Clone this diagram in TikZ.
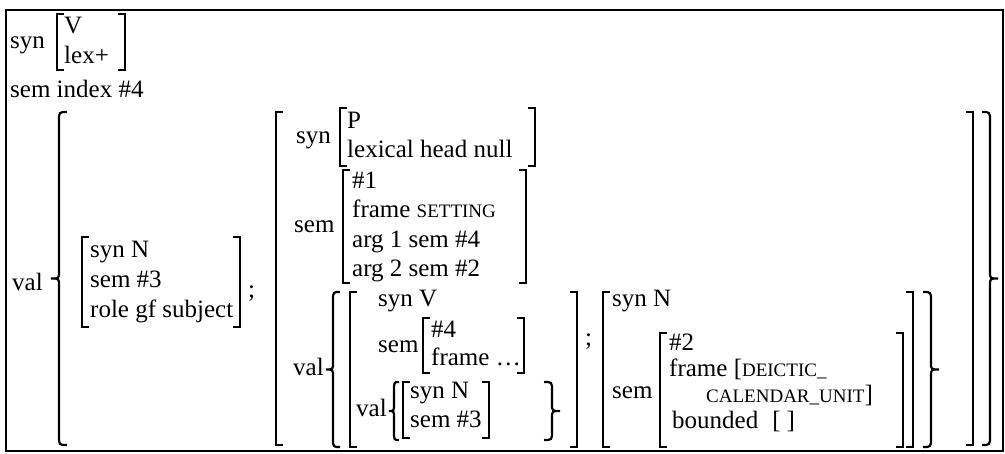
\documentclass[tikz,border=0pt]{standalone}
\usepackage{fontspec}
\setmainfont{Liberation Serif}
\usepackage{tikz}

\newcommand{\avmfont}{\fontsize{25}{30}\selectfont}
\newcommand{\avmsc}[1]{{\fontsize{19}{22}\selectfont #1}}
% square brackets: x, top, bottom
\newcommand{\lbrk}[3]{\draw[brk] (#1+7,#2) -- (#1,#2) -- (#1,#3) -- (#1+7,#3);}
\newcommand{\rbrk}[3]{\draw[brk] (#1-7,#2) -- (#1,#2) -- (#1,#3) -- (#1-7,#3);}
% curly braces: x of the stem, top, bottom, arm width
\newcommand{\lbrc}[4]{\draw[brk] (#1+#4,#2) .. controls (#1,#2) .. (#1,#2+9)
  -- (#1,{(#2+#3)/2-7}) .. controls (#1,{(#2+#3)/2}) .. (#1-#4,{(#2+#3)/2})
  .. controls (#1,{(#2+#3)/2}) .. (#1,{(#2+#3)/2+7}) -- (#1,#3-9)
  .. controls (#1,#3) .. (#1+#4,#3);}
\newcommand{\rbrc}[4]{\draw[brk] (#1-#4,#2) .. controls (#1,#2) .. (#1,#2+9)
  -- (#1,{(#2+#3)/2-7}) .. controls (#1,{(#2+#3)/2}) .. (#1+#4,{(#2+#3)/2})
  .. controls (#1,{(#2+#3)/2}) .. (#1,{(#2+#3)/2+7}) -- (#1,#3-9)
  .. controls (#1,#3) .. (#1-#4,#3);}

\begin{document}
\begin{tikzpicture}[
  x=1pt, y=-1pt,
  txt/.style={anchor=base west, inner sep=0pt, font=\avmfont},
  brk/.style={line width=2.2pt, line cap=butt, line join=miter},
]
  \useasboundingbox (0,0) rectangle (1005,453);
  \draw[line width=1.8pt] (6,10) rectangle (1003,451);

  % head
  \node[txt] (synA) at (10,48) {syn};
  \lbrk{57}{14}{70}
  \node[txt] (vA) at (64,33) {V};
  \node[txt] (lexA) at (64,63) {lex+};
  \rbrk{125}{14}{70}
  \node[txt] (semA) at (10,97) {sem index \#4};

  % valence
  \node[txt] (valA) at (12,290) {val};
  \lbrc{59}{112}{445}{8}

  \lbrk{82}{237}{327}
  \node[txt] (synB) at (90,257) {syn N};
  \node[txt] (semB) at (90,287) {sem \#3};
  \node[txt] (roleB) at (90,317) {role gf subject};
  \rbrk{240}{237}{327}
  \node[txt] (semiA) at (248,297) {;};

  \lbrk{276}{112}{445}
  \node[txt] (synC) at (296,143) {syn};
  \lbrk{340}{108}{166}
  \node[txt] (pC) at (347,128) {P};
  \node[txt] (lexC) at (347,157) {lexical head null};
  \rbrk{535}{108}{166}

  \node[txt] (semC) at (294,232) {sem};
  \lbrk{343}{170}{283}
  \node[txt] (idC) at (352,188) {\#1};
  \node[txt] (frC) at (352,217) {frame \avmsc{SETTING}};
  \node[txt] (argC) at (352,247) {arg 1 sem \#4};
  \node[txt] (argD) at (352,276) {arg 2 sem \#2};
  \rbrk{526}{170}{283}

  \node[txt] (valC) at (293,375) {val};
  \lbrc{333}{292}{447}{7}
  \lbrk{350}{292}{447}
  \node[txt] (synD) at (378,306) {syn V};
  \node[txt] (semD) at (378,352) {sem};
  \lbrk{423}{318}{373}
  \node[txt] (idD) at (431,337) {\#4};
  \node[txt] (frD) at (431,365) {frame \ldots};
  \rbrk{524}{318}{373}
  \node[txt] (valD) at (356,416) {val};
  \lbrc{394}{382}{440}{5}
  \lbrk{403}{382}{438}
  \node[txt] (synE) at (410,398) {syn N};
  \node[txt] (semE) at (410,427) {sem \#3};
  \rbrk{489}{382}{438}
  \rbrc{552}{382}{440}{8}
  \rbrk{577}{292}{447}
  \node[txt] (semiB) at (585,345) {;};

  \lbrk{603}{292}{447}
  \node[txt] (synF) at (612,306) {syn N};
  \node[txt] (semF) at (612,398) {sem};
  \lbrk{660}{333}{447}
  \node[txt] (idF) at (669,350) {\#2};
  \node[txt] (frF) at (669,376) {frame [\avmsc{DEICTIC\_}};
  \node[txt] (calF) at (706,402) {\avmsc{CALENDAR\_UNIT}]};
  \node[txt] (bdF) at (672,428) {bounded\hspace{14pt}[\hspace{6pt}]};
  \rbrk{903}{333}{447}
  \rbrk{913}{292}{447}
  \rbrc{931}{292}{447}{8}

  \rbrk{973}{112}{445}
  \rbrc{990}{112}{445}{8}
\end{tikzpicture}
\end{document}
